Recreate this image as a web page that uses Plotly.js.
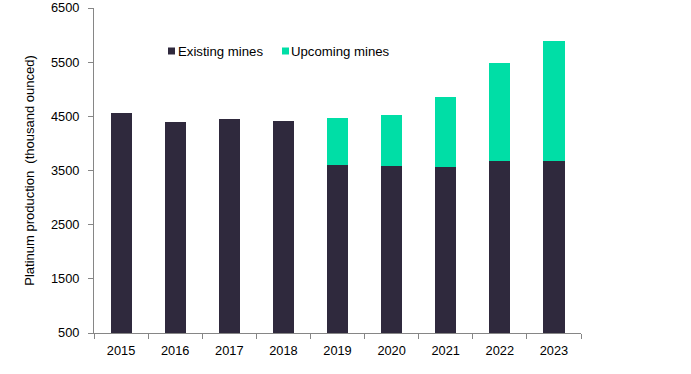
<!DOCTYPE html>
<html>
<head>
<meta charset="utf-8">
<script src="https://cdn.plot.ly/plotly-3.0.1.min.js"></script>
<style>html,body{margin:0;padding:0;background:#fff;}#chart{width:691px;height:374px;}</style>
</head>
<body>
<div id="chart"></div>
<script>
var years = ['2015','2016','2017','2018','2019','2020','2021','2022','2023'];
var existingMines = [4560, 4400, 4450, 4410, 3600, 3585, 3565, 3675, 3675];
var upcomingMines = [0, 0, 0, 0, 870, 940, 1290, 1810, 2215];
var yTicks = [500, 1500, 2500, 3500, 4500, 5500, 6500];
var seriesNames = ['Existing mines', 'Upcoming mines'];
var seriesColors = ['#2F293D', '#00DEA6'];

var traces = [
  {type:'bar', name:seriesNames[0], x:years, y:existingMines, marker:{color:seriesColors[0]}},
  {type:'bar', name:seriesNames[1], x:years, y:upcomingMines, marker:{color:seriesColors[1]}}
];

// custom legend (small square + label), positioned in pixel terms of the plot area
var PL = 94, PW = 487, PT = 8, PH = 325;
function px(x){ return (x - PL) / PW; }
function py(y){ return (PT + PH - y) / PH; }
var legendItems = [{mx:168, tx:177}, {mx:282, tx:290}];
var shapes = [], annotations = [];
legendItems.forEach(function(it, i){
  shapes.push({type:'rect', xref:'paper', yref:'paper', x0:px(it.mx), x1:px(it.mx+7), y0:py(54.5), y1:py(47.5),
    fillcolor:seriesColors[i], line:{width:0}});
  annotations.push({xref:'paper', yref:'paper', x:px(it.tx), y:py(51), xanchor:'left', yanchor:'middle',
    text:seriesNames[i], showarrow:false, font:{size:13.2, color:'#000'}, borderpad:0});
});

var layout = {
  width:691, height:374,
  margin:{l:PL, r:691-PL-PW, t:PT, b:374-PT-PH},
  barmode:'stack', bargap:0.61,
  paper_bgcolor:'#fff', plot_bgcolor:'#fff',
  font:{family:'Liberation Sans, Arial, sans-serif', size:12.8, color:'#000'},
  showlegend:false,
  shapes:shapes, annotations:annotations,
  xaxis:{type:'category', showline:true, linecolor:'#868686', linewidth:1, ticks:'outside', ticklen:5, tickcolor:'#868686',
    showgrid:false, zeroline:false, tickson:'boundaries', ticklabelstandoff:6},
  yaxis:{range:[500,6500], tickvals:yTicks, ticktext:yTicks.map(String), showline:true, linecolor:'#868686', linewidth:1,
    ticks:'outside', ticklen:5, tickcolor:'#868686', showgrid:false, zeroline:false, ticklabelstandoff:6,
    title:{text:'Platinum production  (thousand ounced)', font:{size:13}, standoff:13}}
};
Plotly.newPlot('chart', traces, layout, {displayModeBar:false, staticPlot:true});
</script>
</body>
</html>
